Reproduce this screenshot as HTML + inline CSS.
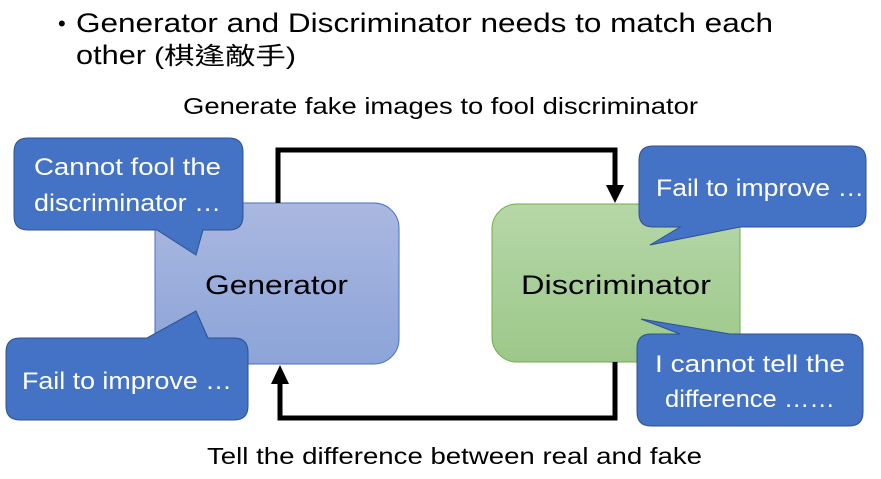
<!DOCTYPE html>
<html><head><meta charset="utf-8"><style>
html,body{margin:0;padding:0;background:#fff;}
svg{display:block;font-family:"Liberation Sans","Noto Sans CJK TC",sans-serif;}
</style></head><body>
<svg width="881" height="479" viewBox="0 0 881 479" xmlns="http://www.w3.org/2000/svg">
<defs>
<linearGradient id="gb" x1="0" y1="0" x2="0" y2="1"><stop offset="0" stop-color="#aab8e0"/><stop offset="1" stop-color="#8ca4d8"/></linearGradient>
<linearGradient id="gg" x1="0" y1="0" x2="0" y2="1"><stop offset="0" stop-color="#b6d7a8"/><stop offset="1" stop-color="#9cc889"/></linearGradient>
</defs>
<text x="58" y="31" font-size="22" fill="#000">•</text>
<text x="76" y="32" font-size="27" fill="#000" textLength="697" lengthAdjust="spacingAndGlyphs">Generator and Discriminator needs to match each</text>
<text x="76" y="64" font-size="27" fill="#000" textLength="70" lengthAdjust="spacingAndGlyphs">other</text>
<text x="154" y="64" font-size="24" fill="#000" textLength="142" lengthAdjust="spacingAndGlyphs">(棋逢敵手)</text>
<text x="183" y="114" font-size="23" fill="#000" textLength="515" lengthAdjust="spacingAndGlyphs">Generate fake images to fool discriminator</text>
<text x="207" y="464" font-size="23" fill="#000" textLength="495" lengthAdjust="spacingAndGlyphs">Tell the difference between real and fake</text>

<rect x="155" y="203" width="244" height="161" rx="25" fill="url(#gb)" stroke="#4472c4" stroke-width="1"/>
<rect x="492" y="204" width="248" height="158" rx="25" fill="url(#gg)" stroke="#70ad47" stroke-width="1"/>
<text x="205" y="294" font-size="27" fill="#000" textLength="143" lengthAdjust="spacingAndGlyphs">Generator</text>
<text x="521" y="294" font-size="27" fill="#000" textLength="190" lengthAdjust="spacingAndGlyphs">Discriminator</text>

<polyline points="278,203 278,150 615,150 615,186" fill="none" stroke="#000" stroke-width="5"/>
<polygon points="606,185 624,185 615,203" fill="#000"/>
<polyline points="615,362 615,418 280,418 280,383" fill="none" stroke="#000" stroke-width="5"/>
<polygon points="271,384 289,384 280,365" fill="#000"/>

<g fill="#4472c4" stroke="#2f528f" stroke-width="1">
<path d="M28,138 H229 Q243,138 243,152 V216 Q243,230 229,230 H203 L196,255 L157,230 H28 Q14,230 14,216 V152 Q14,138 28,138 Z"/>
<path d="M20,338 H147 L196,311 L208,338 H234 Q248,338 248,352 V406 Q248,420 234,420 H20 Q6,420 6,406 V352 Q6,338 20,338 Z"/>
<path d="M653,146 H852 Q866,146 866,160 V213 Q866,227 852,227 H740 L650,245 L680,227 H653 Q639,227 639,213 V160 Q639,146 653,146 Z"/>
<path d="M651,334 H680 L641,319 L730,334 H849 Q863,334 863,348 V412 Q863,426 849,426 H651 Q637,426 637,412 V348 Q637,334 651,334 Z"/>
</g>
<g fill="#fff" font-size="24">
<text x="34" y="175" textLength="187" lengthAdjust="spacingAndGlyphs">Cannot fool the</text>
<text x="34" y="211" textLength="187" lengthAdjust="spacingAndGlyphs">discriminator …</text>
<text x="22" y="389" textLength="210" lengthAdjust="spacingAndGlyphs">Fail to improve …</text>
<text x="656" y="196" textLength="208" lengthAdjust="spacingAndGlyphs">Fail to improve …</text>
<text x="655" y="372" textLength="190" lengthAdjust="spacingAndGlyphs">I cannot tell the</text>
<text x="665" y="407" textLength="170" lengthAdjust="spacingAndGlyphs">difference ……</text>
</g>
</svg>
</body></html>
